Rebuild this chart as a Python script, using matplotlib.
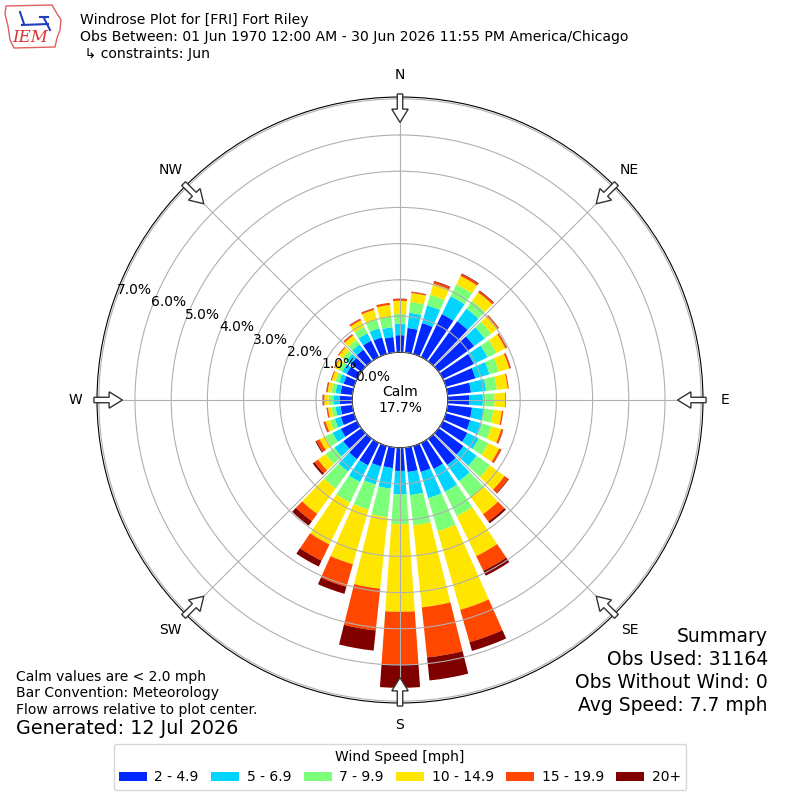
import numpy as np
import matplotlib
matplotlib.use("Agg")
import matplotlib.pyplot as plt
from matplotlib.patches import FancyArrow, Polygon, Patch
from matplotlib.lines import Line2D

# wind directions (deg, meteorological) and speed bins
directions = np.arange(0, 360, 10)
speed_labels = ["2 - 4.9", "5 - 6.9", "7 - 9.9", "10 - 14.9", "15 - 19.9", "20+"]
speed_colors = ["#0028ff", "#00d4ff", "#7cff79", "#ffe600", "#ff4700", "#800000"]

# percent of observations for each direction, one list per speed bin
spd_2_5 = [0.47, 0.68, 0.89, 1.32, 1.37, 1.21, 0.95, 0.85, 0.65, 0.60, 0.68, 0.70,
           0.75, 0.85, 0.90, 0.80, 0.75, 0.68, 0.64, 0.57, 0.59, 0.69, 0.70, 0.62,
           0.50, 0.38, 0.33, 0.35, 0.33, 0.30, 0.32, 0.36, 0.40, 0.50, 0.48, 0.43]
spd_5_7 = [0.32, 0.42, 0.51, 0.55, 0.43, 0.36, 0.42, 0.40, 0.42, 0.37, 0.32, 0.33,
           0.35, 0.45, 0.55, 0.70, 0.75, 0.64, 0.65, 0.57, 0.52, 0.51, 0.42, 0.30,
           0.25, 0.17, 0.14, 0.17, 0.14, 0.13, 0.14, 0.15, 0.18, 0.23, 0.26, 0.27]
spd_7_10 = [0.27, 0.30, 0.30, 0.36, 0.26, 0.22, 0.27, 0.27, 0.30, 0.32, 0.27, 0.28,
            0.30, 0.45, 0.55, 0.75, 0.95, 0.84, 0.82, 0.80, 0.72, 0.63, 0.58, 0.30,
            0.22, 0.14, 0.11, 0.13, 0.11, 0.11, 0.11, 0.13, 0.15, 0.20, 0.25, 0.29]
spd_10_15 = [0.36, 0.25, 0.32, 0.26, 0.29, 0.23, 0.28, 0.30, 0.30, 0.30, 0.24, 0.28,
             0.33, 0.50, 0.58, 1.23, 2.26, 2.28, 2.42, 1.98, 1.57, 1.29, 0.87, 0.26,
             0.18, 0.13, 0.10, 0.12, 0.11, 0.10, 0.11, 0.13, 0.15, 0.20, 0.28, 0.33]
spd_15_20 = [0.05, 0.03, 0.06, 0.06, 0.05, 0.03, 0.04, 0.04, 0.03, 0.02, 0.04, 0.05,
             0.06, 0.13, 0.25, 0.45, 0.93, 1.39, 1.46, 1.16, 0.65, 0.50, 0.25, 0.12,
             0.10, 0.05, 0.03, 0.04, 0.03, 0.03, 0.03, 0.03, 0.04, 0.04, 0.04, 0.06]
spd_20 = [0.01, 0.01, 0.02, 0.02, 0.02, 0.01, 0.01, 0.01, 0.00, 0.00, 0.00, 0.01,
          0.01, 0.02, 0.06, 0.15, 0.25, 0.64, 0.64, 0.56, 0.20, 0.18, 0.15, 0.06,
          0.03, 0.01, 0.01, 0.01, 0.01, 0.00, 0.00, 0.00, 0.01, 0.01, 0.01, 0.00]
speed_bins = [spd_2_5, spd_5_7, spd_7_10, spd_10_15, spd_15_20, spd_20]

calm_pct = 17.7
rings = [0, 1, 2, 3, 4, 5, 6, 7]
compass = ["N", "NE", "E", "SE", "S", "SW", "W", "NW"]

fig = plt.figure(figsize=(8, 8), dpi=100)
ax = fig.add_axes([0.12125, 0.12125, 0.7575, 0.7575], projection="polar")
ax.set_theta_zero_location("N")
ax.set_theta_direction(-1)
ax.set_rorigin(-1.32)
ax.set_ylim(0, 7.05)

theta = np.deg2rad(directions)
bottom = np.zeros(len(directions))
for vals, color in zip(speed_bins, speed_colors):
    vals = np.array(vals)
    ax.bar(theta, vals, width=np.deg2rad(8), bottom=bottom, color=color,
           linewidth=0, zorder=2)
    bottom += vals

ax.set_axisbelow(False)
ax.set_thetagrids(np.arange(0, 360, 45), labels=[""] * 8)
ax.set_rgrids(rings, labels=["%.1f%%" % r for r in rings], fontsize=10)
ax.set_rlabel_position(290)
ax.grid(True, color="#b0b0b0", linewidth=0.8, zorder=3)

ax.text(0.5, 0.5, "Calm\n%.1f%%" % calm_pct, transform=ax.transAxes,
        ha="center", va="center", fontsize=10, zorder=5)

# compass labels and inward flow arrows
for i, lab in enumerate(compass):
    ang = np.deg2rad(i * 45)
    dx, dy = np.sin(ang), np.cos(ang)
    ax.text(0.5 + 0.536 * dx, 0.5 + 0.536 * dy, lab, transform=ax.transAxes,
            ha="center", va="center", fontsize=10)
    r0, r1 = 0.505, 0.458
    arr = FancyArrow(0.5 + r0 * dx, 0.5 + r0 * dy, (r1 - r0) * dx, (r1 - r0) * dy,
                     width=0.009, head_width=0.027, head_length=0.022,
                     length_includes_head=True, transform=ax.transAxes,
                     facecolor="white", edgecolor="#333333", linewidth=1,
                     clip_on=False, zorder=6)
    ax.add_artist(arr)

# header
fig.text(0.1, 1 - 20 / 800, "Windrose Plot for [FRI] Fort Riley", fontsize=10.1, va="center")
fig.text(0.1, 1 - 37 / 800,
         "Obs Between: 01 Jun 1970 12:00 AM - 30 Jun 2026 11:55 PM America/Chicago",
         fontsize=10.1, va="center")
fig.text(0.1, 1 - 54 / 800, " \u21b3 constraints: Jun", fontsize=10.1, va="center")

# crude IEM logo
px = lambda x, y: (x / 800, 1 - y / 800)
outline = [px(6, 6), px(52, 5), px(56, 12), px(61, 20), px(60, 30), px(57, 38),
           px(55, 47), px(14, 48), px(10, 40), px(8, 26), px(5, 14)]
fig.add_artist(Polygon(outline, closed=True, fill=False, edgecolor="#e06060",
                       linewidth=1, transform=fig.transFigure))
fig.text(px(30, 38)[0], px(30, 38)[1], "IEM", color="#e03030", fontsize=12,
         family="DejaVu Serif", style="italic", ha="center", va="center")
for (x0, y0, x1, y1) in [(22, 25, 48, 24), (20, 12, 24, 24), (44, 18, 50, 30),
                         (40, 17, 48, 17)]:
    a, b = px(x0, y0), px(x1, y1)
    fig.add_artist(Line2D([a[0], b[0]], [a[1], b[1]], color="#2040c0",
                          linewidth=1.5, transform=fig.transFigure))

# footnotes
fig.text(16 / 800, 1 - 677 / 800, "Calm values are < 2.0 mph", fontsize=10, va="center")
fig.text(16 / 800, 1 - 693 / 800, "Bar Convention: Meteorology", fontsize=10, va="center")
fig.text(16 / 800, 1 - 710 / 800, "Flow arrows relative to plot center.", fontsize=10,
         va="center")
fig.text(16 / 800, 1 - 728 / 800, "Generated: 12 Jul 2026", fontsize=13.8, va="center")

summary = ["Summary", "Obs Used: 31164", "Obs Without Wind: 0", "Avg Speed: 7.7 mph"]
for k, line in enumerate(summary):
    fig.text(768 / 800, 1 - (636 + 23.3 * k) / 800, line, fontsize=13.5,
             ha="right", va="center")

handles = [Patch(facecolor=c, edgecolor="none") for c in speed_colors]
fig.legend(handles, speed_labels, loc="lower center", bbox_to_anchor=(0.5, 0.0125),
           borderaxespad=0, ncol=6, title="Wind Speed [mph]", fontsize=10,
           title_fontsize=10, handlelength=2.0, handleheight=0.7,
           handletextpad=0.55, columnspacing=0.9)

fig.savefig("out.png", dpi=100)
